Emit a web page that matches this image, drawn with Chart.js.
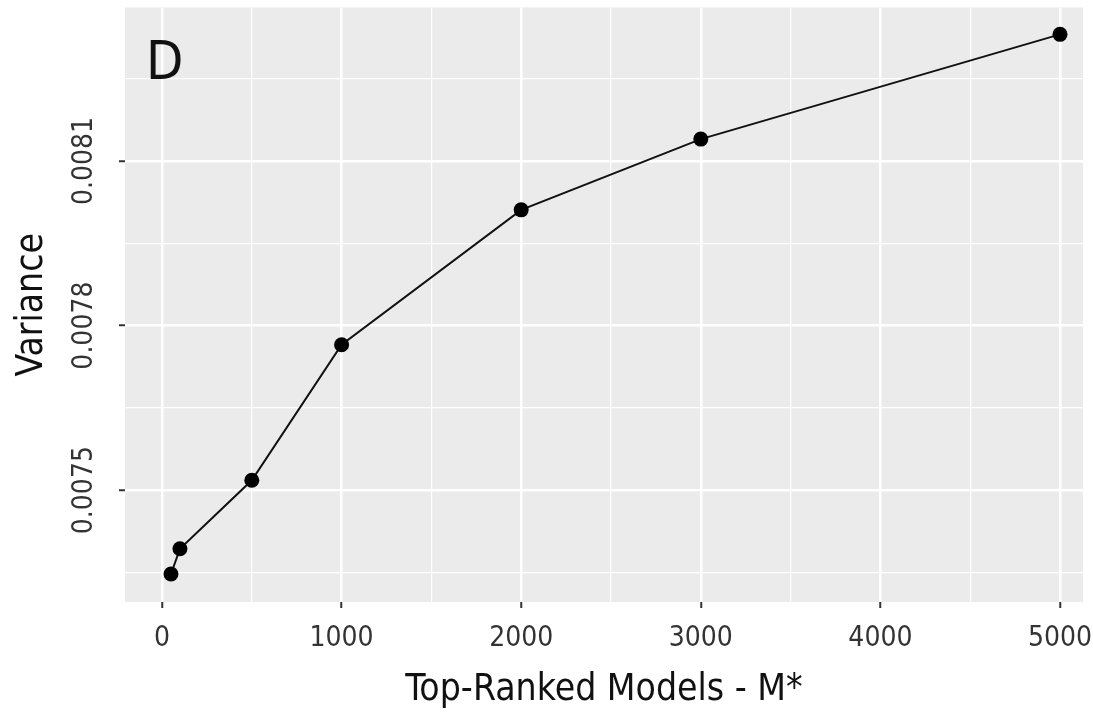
<!DOCTYPE html>
<html>
<head>
<meta charset="utf-8">
<script src="https://cdn.jsdelivr.net/npm/chart.js@4.4.1/dist/chart.umd.min.js"></script>
<style>
  html, body { margin: 0; padding: 0; background: #ffffff; }
  #wrap { width: 1093px; height: 715px; }
</style>
</head>
<body>
<div id="wrap"><canvas id="c" width="1093" height="715"></canvas></div>
<script>
// ---- data ----
const topRankedModels = [50, 100, 500, 1000, 2000, 3000, 5000];
const varianceValues  = [0.007347, 0.007393, 0.007518, 0.007765, 0.008011, 0.008140, 0.008331];
const xTickLabels = [0, 1000, 2000, 3000, 4000, 5000];
const xGridValues = [0, 500, 1000, 1500, 2000, 2500, 3000, 3500, 4000, 4500, 5000];
const yTickLabels = [0.0075, 0.0078, 0.0081];
const yGridValues = [0.00735, 0.0075, 0.00765, 0.0078, 0.00795, 0.0081, 0.00825];
const panelLabel = 'D';
const xTitle = 'Top-Ranked Models - M*';
const yTitle = 'Variance';

const FONT = "'Liberation Sans Narrow', 'DejaVu Sans Condensed', 'Liberation Sans', sans-serif";

const points = topRankedModels.map((x, i) => ({ x: x, y: varianceValues[i] }));

function isMajorX(v) { return xTickLabels.some(t => Math.abs(t - v) < 1e-6); }
function isMajorY(v) { return yTickLabels.some(t => Math.abs(t - v) < 1e-9); }

const panelBg = {
  id: 'panelBg',
  beforeDraw(chart) {
    const { ctx, chartArea: a } = chart;
    ctx.save();
    ctx.fillStyle = '#EBEBEB';
    ctx.fillRect(a.left, a.top, a.right - a.left, a.bottom - a.top);
    ctx.restore();
  },
  afterDraw(chart) {
    const { ctx, chartArea: a } = chart;
    ctx.save();
    ctx.fillStyle = '#111111';
    ctx.font = '54px ' + FONT;
    ctx.textBaseline = 'alphabetic';
    ctx.textAlign = 'left';
    ctx.fillText(panelLabel, a.left + 21, a.top + 71);
    ctx.restore();
  }
};

new Chart(document.getElementById('c'), {
  type: 'scatter',
  data: {
    datasets: [{
      data: points,
      showLine: true,
      borderColor: '#111111',
      borderWidth: 2,
      backgroundColor: '#000000',
      pointRadius: 7.5,
      pointHoverRadius: 7.5,
      pointBorderWidth: 0,
      tension: 0
    }]
  },
  options: {
    responsive: false,
    animation: false,
    layout: { padding: { top: 6, right: 10, left: 0, bottom: 0 } },
    plugins: { legend: { display: false }, tooltip: { enabled: false } },
    scales: {
      x: {
        type: 'linear',
        min: -206,
        max: 5128,
        border: { display: false },
        grid: {
          color: '#FFFFFF',
          lineWidth: ctx => isMajorX(ctx.tick.value) ? 2.5 : 1.2,
          tickColor: ctx => isMajorX(ctx.tick.value) ? '#333333' : 'rgba(0,0,0,0)',
          tickWidth: 2,
          tickLength: 6,
          drawTicks: true
        },
        afterBuildTicks: s => { s.ticks = xGridValues.map(v => ({ value: v })); },
        ticks: {
          autoSkip: false,
          maxRotation: 0,
          minRotation: 0,
          padding: 14,
          color: '#333333',
          font: { family: FONT, size: 28 },
          callback: v => isMajorX(v) ? String(Math.round(v)) : ''
        },
        title: {
          display: true,
          text: xTitle,
          color: '#111111',
          font: { family: FONT, size: 37 },
          padding: { top: 0, bottom: 2 }
        },
        afterFit: s => { s.height = 113; s.paddingLeft = 0; s.paddingRight = 0; }
      },
      y: {
        type: 'linear',
        min: 0.007296,
        max: 0.00838,
        border: { display: false },
        grid: {
          color: '#FFFFFF',
          lineWidth: ctx => isMajorY(ctx.tick.value) ? 2.5 : 1.2,
          tickColor: ctx => isMajorY(ctx.tick.value) ? '#333333' : 'rgba(0,0,0,0)',
          tickWidth: 2,
          tickLength: 6,
          drawTicks: true
        },
        afterBuildTicks: s => { s.ticks = yGridValues.map(v => ({ value: v })); },
        ticks: {
          autoSkip: false,
          minRotation: 90,
          maxRotation: 90,
          crossAlign: 'center',
          padding: -10,
          color: '#333333',
          font: { family: FONT, size: 28 },
          callback: v => {
            const m = yTickLabels.find(t => Math.abs(t - v) < 1e-9);
            return m === undefined ? '' : m.toFixed(4);
          }
        },
        title: {
          display: true,
          text: yTitle,
          color: '#111111',
          font: { family: FONT, size: 37 },
          padding: { top: 10, bottom: 0 }
        },
        afterFit: s => { s.width = 125; s.paddingTop = 0; s.paddingBottom = 0; }
      }
    }
  },
  plugins: [panelBg]
});
</script>
</body>
</html>
